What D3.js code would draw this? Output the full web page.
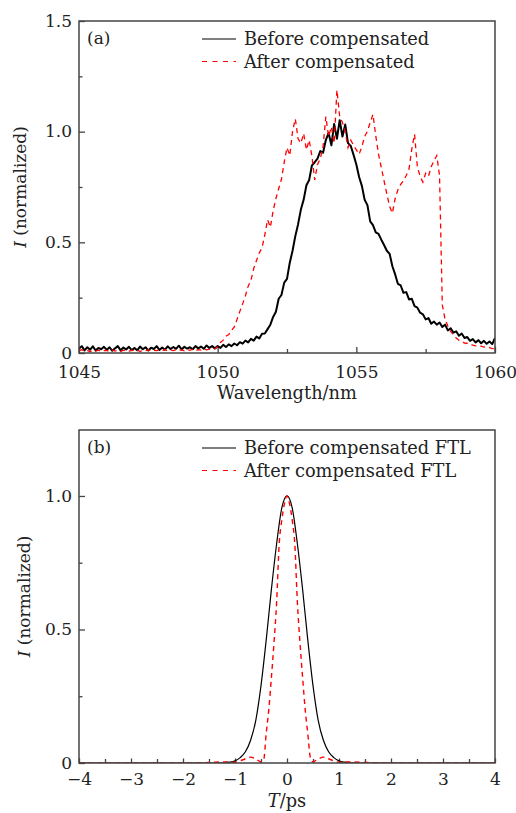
<!DOCTYPE html>
<html><head><meta charset="utf-8">
<script src="https://cdn.jsdelivr.net/npm/d3@7"></script>
<style>
body{margin:0;background:#fff}
text{font-family:"DejaVu Serif",serif;fill:#222}
</style>
</head><body>
<svg id="c" width="516" height="813"></svg>
<script>
// ---------- Panel (a): spectra ----------
const wlStart = 1045, wlStep = 0.1;
const beforeSpec = [
0.020,0.031,0.012,0.026,0.015,0.030,0.011,0.023,0.017,0.028,
0.014,0.026,0.010,0.021,0.031,0.012,0.025,0.016,0.028,0.013,
0.023,0.012,0.029,0.017,0.026,0.011,0.024,0.018,0.031,0.014,
0.025,0.015,0.030,0.018,0.027,0.019,0.033,0.016,0.028,0.020,
0.026,0.017,0.031,0.021,0.029,0.019,0.034,0.023,0.031,0.021,
0.031,0.023,0.037,0.027,0.039,0.031,0.043,0.035,0.049,0.042,
0.056,0.048,0.064,0.056,0.074,0.066,0.087,0.088,0.108,0.128,
0.163,0.186,0.245,0.262,0.318,0.335,0.408,0.462,0.528,0.582,
0.648,0.692,0.758,0.782,0.848,0.862,0.878,0.912,0.905,0.962,
0.995,0.938,1.035,0.968,1.052,0.978,1.032,0.948,0.935,0.895,
0.852,0.795,0.755,0.692,0.668,0.595,0.578,0.545,0.538,0.512,
0.488,0.462,0.448,0.392,0.355,0.312,0.305,0.272,0.275,0.242,
0.245,0.212,0.205,0.182,0.175,0.152,0.158,0.132,0.142,0.128,
0.138,0.118,0.128,0.102,0.112,0.092,0.098,0.078,0.088,0.068,
0.072,0.055,0.063,0.048,0.058,0.044,0.055,0.042,0.052,0.040,
0.068];
const afterSpec = [
0.010,0.015,0.008,0.012,0.006,0.014,0.009,0.013,0.007,0.011,
0.012,0.006,0.014,0.009,0.012,0.007,0.013,0.010,0.008,0.013,
0.009,0.014,0.007,0.012,0.010,0.015,0.008,0.012,0.011,0.014,
0.010,0.016,0.009,0.013,0.011,0.015,0.012,0.014,0.010,0.016,
0.012,0.017,0.011,0.015,0.013,0.018,0.014,0.017,0.016,0.020,
0.028,0.048,0.058,0.076,0.083,0.102,0.118,0.152,0.188,0.222,
0.258,0.302,0.328,0.382,0.418,0.452,0.476,0.534,0.602,0.568,
0.642,0.698,0.742,0.785,0.862,0.928,0.892,1.002,1.058,0.968,
0.948,0.992,0.918,0.962,0.888,0.782,0.852,0.878,0.932,1.068,
0.978,1.022,0.948,1.188,1.068,1.042,0.998,0.928,0.962,0.938,
0.918,0.898,0.932,0.978,1.002,1.042,1.078,0.982,0.898,0.838,
0.778,0.718,0.662,0.632,0.698,0.738,0.762,0.778,0.802,0.832,
0.922,0.988,0.842,0.798,0.772,0.812,0.798,0.842,0.868,0.892,
0.802,0.218,0.152,0.122,0.098,0.082,0.068,0.058,0.052,0.045,
0.044,0.040,0.035,0.032,0.030,0.031,0.027,0.029,0.024,0.020,
0.020];
const xTicksA = [1045, 1050, 1055, 1060];
const xMinorA = [1052.5, 1057.5];
const yTicksA = [0, 0.5, 1.0, 1.5];
const yMinorA = [0.25, 0.75, 1.25];
const legendA = ["Before compensated", "After compensated"];

// ---------- Panel (b): pulses ----------
const tBefore = [-4,-3,-2,-1.5,-1.2,-1.1,-1.0,-0.9,-0.8,-0.7,-0.6,-0.5,-0.4,-0.3,-0.2,-0.1,0,0.1,0.2,0.3,0.4,0.5,0.6,0.7,0.8,0.9,1.0,1.1,1.2,1.5,2,3,4];
const vBefore = [0,0,0,0,0.001,0.003,0.008,0.02,0.042,0.085,0.16,0.29,0.46,0.65,0.82,0.955,1.0,0.955,0.82,0.65,0.46,0.29,0.16,0.085,0.042,0.02,0.008,0.003,0.001,0,0,0,0];
const tAfter = [-4,-3,-2,-1.5,-1.2,-1.0,-0.9,-0.8,-0.7,-0.6,-0.5,-0.45,-0.4,-0.35,-0.3,-0.25,-0.2,-0.15,-0.1,-0.05,0,0.05,0.1,0.15,0.2,0.25,0.3,0.35,0.4,0.45,0.5,0.6,0.7,0.8,0.9,1.0,1.2,1.5,2,3,4];
const vAfter = [0,0,0,0.002,0.004,0.003,0.008,0.016,0.022,0.015,0.004,0.01,0.11,0.2,0.32,0.45,0.6,0.82,0.91,0.97,1.0,0.97,0.91,0.82,0.6,0.45,0.32,0.2,0.11,0.02,0.004,0.015,0.022,0.016,0.008,0.003,0.004,0.002,0,0,0];
const xTicksB = [-4,-3,-2,-1,0,1,2,3,4];
const xMinorB = [-3.5,-2.5,-1.5,-0.5,0.5,1.5,2.5,3.5];
const yTicksB = [0, 0.5, 1.0];
const yMinorB = [0.25, 0.75];
const legendB = ["Before compensated FTL", "After compensated FTL"];

const svg = d3.select("#c");
const FF = "DejaVu Serif";
const FS = 17;     // tick labels, panel tags
const FSL = 17.8;  // legend and axis titles
const frameColor = "#444";

function panel(o){
  const g = svg.append("g");
  const x = d3.scaleLinear().domain(o.xd).range([o.L, o.R]);
  const y = d3.scaleLinear().domain(o.yd).range([o.B, o.T]);
  const yfmt = d => d === 0 ? "0" : d3.format(".1f")(d);

  // y axis
  const ya = g.append("g").attr("transform", `translate(${o.L},0)`)
    .call(d3.axisLeft(y).tickValues(o.yt).tickSize(-6).tickPadding(7).tickFormat(yfmt));
  ya.select(".domain").remove();
  ya.selectAll("text").attr("font-size", FS).attr("font-family", FF).attr("fill", "#222").attr("dy", "0.3em");
  ya.selectAll("line").attr("stroke", frameColor).attr("stroke-width", 1.3);
  const ym = g.append("g").attr("transform", `translate(${o.L},0)`)
    .call(d3.axisLeft(y).tickValues(o.ym).tickSize(-3.5).tickFormat(""));
  ym.select(".domain").remove();
  ym.selectAll("line").attr("stroke", frameColor).attr("stroke-width", 1.3);

  // x axis
  const xa = g.append("g").attr("transform", `translate(0,${o.B})`)
    .call(d3.axisBottom(x).tickValues(o.xt).tickSize(-o.xtl).tickPadding(o.xpad).tickFormat(o.xfmt));
  xa.select(".domain").remove();
  xa.selectAll("text").attr("font-size", FS).attr("font-family", FF).attr("fill", "#222").attr("dy", "0.71em");
  xa.selectAll("line").attr("stroke", frameColor).attr("stroke-width", 1.3);
  const xm = g.append("g").attr("transform", `translate(0,${o.B})`)
    .call(d3.axisBottom(x).tickValues(o.xm).tickSize(-o.xml).tickFormat(""));
  xm.select(".domain").remove();
  xm.selectAll("line").attr("stroke", frameColor).attr("stroke-width", 1.3);

  // clip
  const cid = "clip" + o.id;
  svg.append("clipPath").attr("id", cid).append("rect")
    .attr("x", o.L).attr("y", o.T).attr("width", o.R - o.L).attr("height", o.B - o.T);

  const line = d3.line().x(d => x(d[0])).y(d => y(d[1])).curve(o.curve);
  const dg = g.append("g").attr("clip-path", `url(#${cid})`);
  dg.append("path").datum(o.s1).attr("d", line).attr("fill", "none")
    .attr("stroke", "#000").attr("stroke-width", o.w1).attr("stroke-linejoin", "round");
  dg.append("path").datum(o.s2).attr("d", line).attr("fill", "none")
    .attr("stroke", "#ff0000").attr("stroke-width", o.w2).attr("stroke-dasharray", "5,4");

  // frame
  g.append("rect").attr("x", o.L).attr("y", o.T).attr("width", o.R - o.L).attr("height", o.B - o.T)
    .attr("fill", "none").attr("stroke", frameColor).attr("stroke-width", 1.5);

  // panel tag
  g.append("text").attr("x", o.L + 8).attr("y", o.T + 23).attr("font-size", FS).text(o.tag);

  // legend
  const lg = g.append("g");
  o.leg.forEach((name, i) => {
    const ly = o.legY + i * 22.5;
    lg.append("line").attr("x1", 202).attr("x2", 236).attr("y1", ly).attr("y2", ly)
      .attr("stroke", i ? "#ff0000" : "#000").attr("stroke-width", 1.2)
      .attr("stroke-dasharray", i ? "5,5.5" : null);
    lg.append("text").attr("x", 244).attr("y", ly + 6).attr("font-size", FSL).text(name);
  });

  // y title
  const yt = g.append("text").attr("transform", `translate(${o.ytx},${(o.T + o.B) / 2}) rotate(-90)`)
    .attr("text-anchor", "middle").attr("font-size", FS);
  yt.append("tspan").attr("font-style", "italic").text("I");
  yt.append("tspan").text(" (normalized)");
  return {x, y};
}

panel({
  id: "a", L: 79, R: 495, T: 21, B: 353, xd: [1045, 1060], yd: [0, 1.5],
  xt: xTicksA, xm: xMinorA, yt: yTicksA, ym: yMinorA, xtl: 6, xml: 4, xpad: 13,
  xfmt: d3.format("d"), curve: d3.curveLinear,
  s1: beforeSpec.map((v, i) => [wlStart + i * wlStep, v]),
  s2: afterSpec.map((v, i) => [wlStart + i * wlStep, v]),
  w1: 2, w2: 1.3, tag: "(a)", leg: legendA, legY: 39, ytx: 26
});
panel({
  id: "b", L: 79, R: 495, T: 430, B: 763, xd: [-4, 4], yd: [0, 1.247],
  xt: xTicksB, xm: xMinorB, yt: yTicksB, ym: yMinorB, xtl: 4.5, xml: 4, xpad: 10,
  xfmt: d3.format("d"), curve: d3.curveMonotoneX,
  s1: tBefore.map((t, i) => [t, vBefore[i]]),
  s2: tAfter.map((t, i) => [t, vAfter[i]]),
  w1: 1.2, w2: 1.4, tag: "(b)", leg: legendB, legY: 448, ytx: 30
});

// x titles
svg.append("text").attr("x", 287).attr("y", 399).attr("text-anchor", "middle")
  .attr("font-size", FSL).text("Wavelength/nm");
const tt = svg.append("text").attr("x", 287).attr("y", 807).attr("text-anchor", "middle").attr("font-size", FSL);
tt.append("tspan").attr("font-style", "italic").text("T");
tt.append("tspan").text("/ps");
</script>
</body></html>
